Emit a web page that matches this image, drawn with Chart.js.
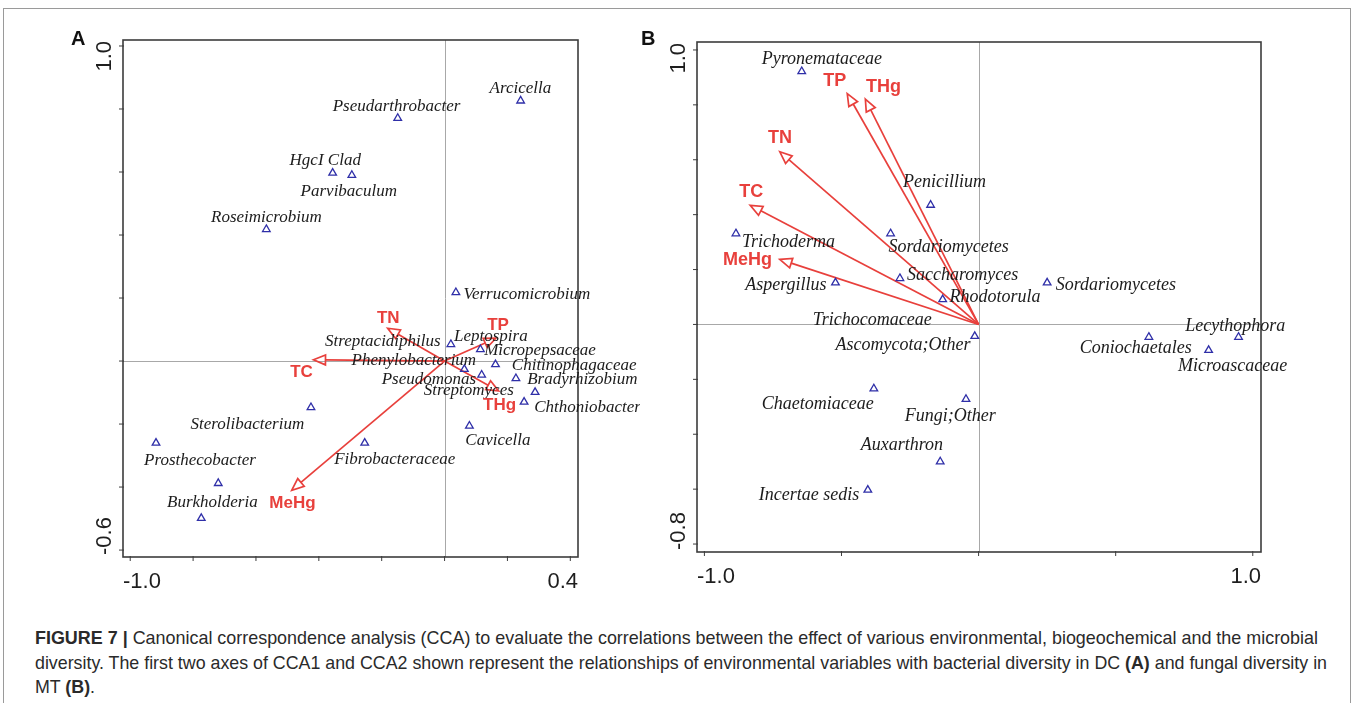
<!DOCTYPE html>
<html>
<head>
<meta charset="utf-8">
<script src="https://cdn.jsdelivr.net/npm/chart.js@4.4.1/dist/chart.umd.min.js"></script>
<style>
  html, body { margin: 0; padding: 0; background: #fff; width: 1358px; height: 703px; overflow: hidden; }
  #border { position: absolute; left: 3px; top: 8px; width: 1348px; height: 700px; border: 1px solid #9a9a9a; box-sizing: border-box; }
  canvas { position: absolute; top: 0; }
  #cvA { left: 0; }
  #cvB { left: 640px; }
  .letter { position: absolute; font: bold 20px "Liberation Sans", Arial, sans-serif; color: #111; }
  #caption { position: absolute; left: 35px; top: 626px; font-family: "Liberation Sans Narrow", "Liberation Sans", Arial, sans-serif; font-size: 18.5px; color: #2a2a2a; }
  .cl { white-space: nowrap; height: 24.5px; line-height: 24.5px; transform-origin: left center; }
</style>
</head>
<body>
<div id="border"></div>
<canvas id="cvA" width="640" height="600"></canvas>
<canvas id="cvB" width="718" height="600"></canvas>
<div class="letter" style="left:71px; top:27px;">A</div>
<div class="letter" style="left:641px; top:27px;">B</div>
<div id="caption">
  <div class="cl" data-w="1283"><b>FIGURE 7 |</b> Canonical correspondence analysis (CCA) to evaluate the correlations between the effect of various environmental, biogeochemical and the microbial</div>
  <div class="cl" data-w="1292">diversity. The first two axes of CCA1 and CCA2 shown represent the relationships of environmental variables with bacterial diversity in DC <b>(A)</b> and fungal diversity in</div>
  <div class="cl">MT <b>(B)</b>.</div>
</div>
<script>
// ---- Panel A: bacterial taxa in DC (CCA1 / CCA2 scores) ----
const bactX = [0.242, -0.149, -0.356, -0.295, -0.567, 0.036, 0.020, 0.114, 0.162, 0.063,
               0.118, 0.227, 0.288, 0.253, -0.425, 0.079, -0.918, -0.254, -0.720, -0.774];
const bactY = [0.826, 0.771, 0.597, 0.590, 0.418, 0.218, 0.053, 0.037, -0.011, -0.026,
               -0.044, -0.055, -0.099, -0.130, -0.147, -0.206, -0.260, -0.260, -0.388, -0.499];
const bactNames = ["Arcicella", "Pseudarthrobacter", "HgcI Clad", "Parvibaculum", "Roseimicrobium",
                   "Verrucomicrobium", "Leptospira", "Streptacidiphilus", "Micropepsaceae", "Phenylobacterium",
                   "Chitinophagaceae", "Pseudomonas", "Bradyrhizobium", "Streptomyces", "Chthoniobacter",
                   "Sterolibacterium", "Cavicella", "Prosthecobacter", "Fibrobacteraceae", "Burkholderia"];
// where each name starts (left edge, vertical middle), in plot units
const bactLabelX = [0.143, -0.356, -0.493, -0.458, -0.743, 0.060, 0.030, -0.380, 0.126, -0.296,
                    0.214, -0.200, 0.263, -0.066, 0.285, -0.808, 0.066, -0.956, -0.351, -0.883];
const bactLabelY = [0.865, 0.809, 0.635, 0.538, 0.456, 0.211, 0.079, 0.061, 0.034, 0.002,
                    -0.015, -0.058, -0.060, -0.093, -0.148, -0.201, -0.251, -0.316, -0.313, -0.449];

// environmental vectors, panel A
const envNames = ["TN", "TP", "TC", "THg", "MeHg"];
const envAX = [-0.181, 0.164, -0.417, 0.172, -0.486];
const envAY = [0.104, 0.073, 0.004, -0.095, -0.410];
const envALabelX = [-0.179, 0.170, -0.455, 0.175, -0.484];
const envALabelY = [0.137, 0.113, -0.036, -0.140, -0.451];

// ---- Panel B: fungal taxa in MT ----
const fungX = [-0.645, -0.175, -0.885, -0.321, -0.287, -0.522, 0.250, -0.131, -0.014,
               0.948, 0.621, 0.839, -0.382, -0.046, -0.140, -0.404];
const fungY = [0.922, 0.435, 0.331, 0.331, 0.168, 0.152, 0.152, 0.091, -0.043,
               -0.046, -0.046, -0.094, -0.234, -0.272, -0.500, -0.603];
const fungNames = ["Pyronemataceae", "Penicillium", "Trichoderma", "Sordariomycetes", "Saccharomyces",
                   "Aspergillus", "Sordariomycetes", "Rhodotorula", "Trichocomaceae", "Ascomycota;Other",
                   "Lecythophora", "Coniochaetales", "Microascaceae", "Chaetomiaceae", "Fungi;Other",
                   "Auxarthron", "Incertae sedis"];
const fungLabelX = [-0.791, -0.276, -0.863, -0.329, -0.261, -0.851, 0.281, -0.106, -0.605, -0.522,
                    0.754, 0.369, 0.727, -0.791, -0.269, -0.430, -0.802];
const fungLabelY = [0.965, 0.519, 0.298, 0.282, 0.179, 0.141, 0.144, 0.099, 0.017, -0.077,
                    -0.006, -0.086, -0.151, -0.292, -0.336, -0.440, -0.624];

// environmental vectors, panel B
const envBX = [-0.725, -0.479, -0.833, -0.413, -0.725];
const envBY = [0.629, 0.841, 0.434, 0.821, 0.237];
const envBLabelX = [-0.724, -0.525, -0.829, -0.347, -0.843];
const envBLabelY = [0.679, 0.887, 0.481, 0.864, 0.235];

// axis ticks
const ticksAX = [-1.0, -0.8, -0.6, -0.4, -0.2, 0, 0.2, 0.4];
const ticksAY = [-0.6, -0.4, -0.2, 0, 0.2, 0.4, 0.6, 0.8, 1.0];
const ticksBX = [-1.0, -0.5, 0, 0.5, 1.0];
const ticksBY = [-0.8, -0.6, -0.4, -0.2, 0, 0.2, 0.4, 0.6, 0.8, 1.0];
const tickLabelsA = { x: ["-1.0", "0.4"], y: ["-0.6", "1.0"] };
const tickLabelsB = { x: ["-1.0", "1.0"], y: ["-0.8", "1.0"] };

const RED = "#e8403c";
const BLUE = "#2f2fa8";

function drawArrow(ctx, x0, y0, x1, y1) {
  const ang = Math.atan2(y1 - y0, x1 - x0);
  const len = 12, half = 5;
  const bx = x1 - len * Math.cos(ang), by = y1 - len * Math.sin(ang);
  const nx = -Math.sin(ang), ny = Math.cos(ang);
  ctx.beginPath();
  ctx.moveTo(x0, y0);
  ctx.lineTo(bx, by);
  ctx.stroke();
  ctx.beginPath();
  ctx.moveTo(x1, y1);
  ctx.lineTo(bx + nx * half, by + ny * half);
  ctx.lineTo(bx - nx * half, by - ny * half);
  ctx.closePath();
  ctx.stroke();
}

// draws frame, zero lines, ticks, arrows and text for a CCA biplot
function ccaPlugin(p) {
  return {
    id: "cca",
    beforeDatasetsDraw(chart) {
      const { ctx, chartArea: a, scales: { x, y } } = chart;
      ctx.save();
      ctx.strokeStyle = "#a8a8a8";
      ctx.lineWidth = 1;
      const zx = Math.round(x.getPixelForValue(0)) + 0.5;
      const zy = Math.round(y.getPixelForValue(0)) + 0.5;
      ctx.beginPath();
      ctx.moveTo(zx, a.top); ctx.lineTo(zx, a.bottom);
      ctx.moveTo(a.left, zy); ctx.lineTo(a.right, zy);
      ctx.stroke();

      // environmental arrows
      ctx.strokeStyle = RED;
      ctx.lineWidth = 1.7;
      const ox = x.getPixelForValue(0), oy = y.getPixelForValue(0);
      p.envX.forEach((v, i) => {
        drawArrow(ctx, ox, oy, x.getPixelForValue(v), y.getPixelForValue(p.envY[i]));
      });
      ctx.restore();
    },
    afterDraw(chart) {
      const { ctx, chartArea: a, scales: { x, y } } = chart;
      ctx.save();
      // frame
      ctx.strokeStyle = "#3c3c3c";
      ctx.lineWidth = 1.6;
      ctx.strokeRect(a.left, a.top, a.right - a.left, a.bottom - a.top);
      // ticks
      ctx.lineWidth = 1;
      ctx.beginPath();
      p.ticksX.forEach(v => {
        const px = x.getPixelForValue(v);
        ctx.moveTo(px, a.bottom - 1); ctx.lineTo(px, a.bottom + 4);
      });
      p.ticksY.forEach(v => {
        const py = y.getPixelForValue(v);
        ctx.moveTo(a.left + 1, py); ctx.lineTo(a.left - 4, py);
      });
      ctx.stroke();

      // tick labels, pinned to the frame ends
      ctx.fillStyle = "#1e1e1e";
      ctx.font = "22px 'Liberation Sans', Arial, sans-serif";
      ctx.textBaseline = "alphabetic";
      ctx.textAlign = "left";
      ctx.fillText(p.tickLabels.x[0], a.left, a.bottom + 31);
      ctx.textAlign = "right";
      ctx.fillText(p.tickLabels.x[1], a.right, a.bottom + 31);
      ctx.save();
      ctx.translate(a.left - 12.5, 0);
      ctx.rotate(-Math.PI / 2);
      ctx.textAlign = "left";
      ctx.fillText(p.tickLabels.y[0], -(a.bottom - 2), 0);
      ctx.textAlign = "right";
      ctx.fillText(p.tickLabels.y[1], -(a.top + 1), 0);
      ctx.restore();

      // taxa names
      ctx.font = "italic " + p.nameSize + "px 'Liberation Serif', 'Times New Roman', serif";
      ctx.fillStyle = "#1c1c1c";
      ctx.textAlign = "left";
      ctx.textBaseline = "middle";
      p.names.forEach((n, i) => {
        ctx.fillText(n, x.getPixelForValue(p.labelX[i]), y.getPixelForValue(p.labelY[i]));
      });

      // variable names
      ctx.font = "bold " + p.envSize + "px 'Liberation Sans', Arial, sans-serif";
      ctx.fillStyle = RED;
      ctx.textAlign = "center";
      envNames.forEach((n, i) => {
        ctx.fillText(n, x.getPixelForValue(p.envLabelX[i]), y.getPixelForValue(p.envLabelY[i]));
      });
      ctx.restore();
    }
  };
}

function buildPanel(id, p) {
  return new Chart(document.getElementById(id), {
    type: "scatter",
    data: {
      datasets: [{
        data: p.xs.map((v, i) => ({ x: v, y: p.ys[i] })),
        pointStyle: "triangle",
        pointRadius: 4.4,
        pointHoverRadius: 4.4,
        pointBorderColor: BLUE,
        pointBackgroundColor: "rgba(0,0,0,0)",
        pointBorderWidth: 1.3
      }]
    },
    options: {
      responsive: false,
      animation: false,
      devicePixelRatio: 1,
      layout: { padding: p.padding },
      plugins: { legend: { display: false }, tooltip: { enabled: false } },
      scales: {
        x: { type: "linear", min: p.xMin, max: p.xMax, display: false },
        y: { type: "linear", min: p.yMin, max: p.yMax, display: false }
      }
    },
    plugins: [ccaPlugin(p)]
  });
}

buildPanel("cvA", {
  xs: bactX, ys: bactY, names: bactNames, labelX: bactLabelX, labelY: bactLabelY,
  envX: envAX, envY: envAY, envLabelX: envALabelX, envLabelY: envALabelY,
  ticksX: ticksAX, ticksY: ticksAY, tickLabels: tickLabelsA,
  xMin: -1.023, xMax: 0.4245, yMin: -0.622, yMax: 1.019,
  padding: { left: 123, top: 40, right: 62, bottom: 43 },
  nameSize: 17, envSize: 17
});

buildPanel("cvB", {
  xs: fungX, ys: fungY, names: fungNames, labelX: fungLabelX, labelY: fungLabelY,
  envX: envBX, envY: envBY, envLabelX: envBLabelX, envLabelY: envBLabelY,
  ticksX: ticksBX, ticksY: ticksBY, tickLabels: tickLabelsB,
  xMin: -1.027, xMax: 1.030, yMin: -0.829, yMax: 1.029,
  padding: { left: 57, top: 42, right: 97, bottom: 48 },
  nameSize: 18, envSize: 18
});

// squeeze caption lines to the reference widths
let lastScale = 1;
document.querySelectorAll("#caption .cl").forEach(el => {
  el.style.display = "inline-block";
  const w = el.getBoundingClientRect().width;
  el.style.display = "block";
  const target = el.dataset.w ? parseFloat(el.dataset.w) : w * lastScale;
  lastScale = target / w;
  el.style.transform = "scaleX(" + lastScale + ")";
});
</script>
</body>
</html>
